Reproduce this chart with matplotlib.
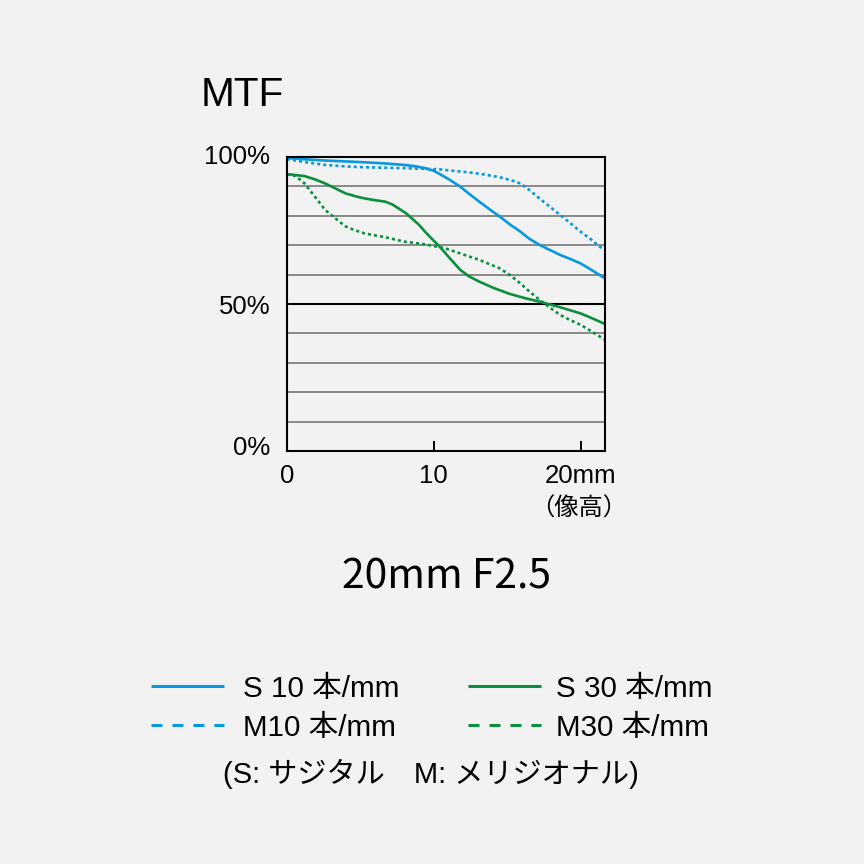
import matplotlib
matplotlib.use("Agg")
import matplotlib.pyplot as plt
from matplotlib.lines import Line2D
from matplotlib.transforms import ScaledTranslation

plt.rcParams['lines.scale_dashes'] = False

# ---- data ----
s10_x = [0, 1.3, 2.6, 4.0, 5.3, 6.7, 8.0, 8.8, 9.4, 10.0, 10.4, 11.1, 11.8, 12.4, 13.1, 13.8, 14.5, 15.2, 15.9, 16.5, 17.2, 17.9, 18.6, 19.3, 20.0, 20.8, 21.66]
s10_y = [99.6, 99.2, 98.8, 98.5, 98.2, 97.8, 97.3, 96.8, 96.2, 95.3, 94.2, 92.2, 89.9, 87.5, 84.8, 82.2, 79.7, 77.0, 74.6, 72.2, 70.1, 68.4, 66.7, 65.3, 63.8, 61.4, 58.7]

m10_x = [0, 1.3, 2.6, 4.0, 5.3, 8.0, 10.4, 12.5, 13.5, 14.5, 15.2, 15.9, 16.5, 17.2, 17.9, 18.6, 19.3, 20.0, 20.7, 21.3, 21.66]
m10_y = [99.3, 98.2, 97.3, 96.8, 96.5, 96.2, 95.8, 94.7, 94.0, 93.1, 92.2, 91.0, 88.8, 85.9, 83.1, 80.3, 77.5, 74.6, 72.0, 69.5, 68.4]

s30_x = [0, 1.2, 1.9, 2.6, 3.3, 4.0, 4.7, 5.3, 6.0, 6.7, 7.2, 7.6, 8.1, 8.5, 9.0, 9.4, 9.9, 10.4, 11.1, 11.8, 12.4, 13.1, 14.1, 15.2, 16.2, 17.2, 18.6, 20.0, 20.8, 21.66]
s30_y = [94.2, 93.5, 92.4, 91.0, 89.3, 87.6, 86.6, 85.9, 85.3, 84.8, 83.8, 82.5, 80.9, 79.1, 76.9, 74.6, 72.0, 69.5, 65.5, 61.6, 59.4, 57.6, 55.4, 53.4, 52.0, 50.8, 48.9, 46.8, 45.1, 43.2]

m30_x = [0, 0.6, 1.2, 1.9, 2.6, 3.3, 3.95, 4.6, 5.3, 6.7, 8.0, 9.4, 10.8, 11.8, 13.1, 14.5, 15.2, 15.9, 16.5, 17.2, 17.9, 18.6, 19.3, 20.0, 20.8, 21.66]
m30_y = [94.1, 93.5, 91.0, 86.5, 82.0, 79.1, 76.5, 75.1, 74.0, 72.7, 71.2, 70.3, 68.9, 67.2, 65.0, 62.1, 59.8, 57.0, 54.3, 51.4, 48.8, 46.3, 44.5, 42.9, 40.5, 37.8]

grid_levels = [10, 20, 30, 40, 60, 70, 80, 90]
mid_level = 50
x_ticks = [0, 10, 20]
x_ticklabels = ['0', '10', '20mm']
y_ticks = [0, 50, 100]
y_ticklabels = ['0%', '50%', '100%']

legend_labels = ['S 10 本/mm', 'M10 本/mm', 'S 30 本/mm', 'M30 本/mm']

BLUE = '#0798e0'
GREEN = '#0a8f3c'
BG = '#f2f2f2'
LATIN = ['Liberation Sans', 'Noto Sans CJK JP']

fig = plt.figure(figsize=(8.64, 8.64), dpi=100, facecolor=BG)
ax = fig.add_axes([287/864, 1-451/864, (605-287)/864, (451-157)/864])
ax.set_facecolor(BG)
ax.set_xlim(0, 21.66)
ax.set_ylim(0, 100)

for g in grid_levels:
    ax.axhline(g, color='#6e6e6e', lw=1.1, zorder=1)
ax.axhline(mid_level, color='black', lw=1.5, zorder=1)

lw = 1.9
dot = (0, (2.2, 2.2))
ax.plot(s10_x, s10_y, color=BLUE, lw=lw, solid_capstyle='butt', solid_joinstyle='round', zorder=3)
ax.plot(m10_x, m10_y, color=BLUE, lw=lw, linestyle=dot, dash_capstyle='butt', zorder=3)
ax.plot(s30_x, s30_y, color=GREEN, lw=lw, solid_capstyle='butt', solid_joinstyle='round', zorder=3)
ax.plot(m30_x, m30_y, color=GREEN, lw=lw, linestyle=dot, dash_capstyle='butt', zorder=3)

for sp in ax.spines.values():
    sp.set_linewidth(1.5)
    sp.set_color('black')
    sp.set_zorder(4)

ax.set_xticks(x_ticks)
ax.set_xticklabels(x_ticklabels, fontfamily=LATIN, fontsize=18.5)
ax.tick_params(axis='x', direction='in', length=7.2, width=1.4, pad=9.5, color='black')
ax.set_yticks(y_ticks)
ax.set_yticklabels(y_ticklabels, fontfamily=LATIN, fontsize=18.5)
ax.tick_params(axis='y', length=0, pad=12)
offsets_px = [5, 0, 2]
for t, off in zip(ax.get_yticklabels(), offsets_px):
    t.set_va('center_baseline')
    t.set_transform(t.get_transform() + ScaledTranslation(0, off/100, fig.dpi_scale_trans))

# texts
fig.text(201/864, 1-95/864, 'MTF', fontfamily=LATIN, fontsize=29.2, ha='left', va='center')
fig.text(627/864, 1-509/864, '（像高）', fontfamily=['Noto Sans CJK JP'], fontsize=17.5, ha='right', va='center')
fig.text(446/864, 1-577/864, '20mm F2.5', fontfamily=['Noto Sans CJK JP'], fontsize=29.4, ha='center', va='center')

# legend (manual layout)
rows_y = [686, 725]
cols = [(151, 224, 243), (468, 541, 556)]
styles = [(BLUE, '-'), (BLUE, '--'), (GREEN, '-'), (GREEN, '--')]
for i, lab in enumerate(legend_labels):
    c = i // 2
    r = i % 2
    x0, x1, xt = cols[c]
    yy = 1 - rows_y[r]/864
    color, ls = styles[i]
    ln = Line2D([x0/864, x1/864], [yy, yy], transform=fig.transFigure, color=color, lw=2.2,
                solid_capstyle='butt', dash_capstyle='butt')
    if ls == '--':
        ln.set_dashes((7.9, 7.2))
    fig.add_artist(ln)
    fig.text(xt/864, 1 - (rows_y[r] + 3)/864, lab, fontfamily=LATIN, fontsize=21.3, ha='left', va='center')

fig.text(431/864, 1-774/864, '(S: サジタル\u3000M: メリジオナル)', fontfamily=LATIN, fontsize=21,
         ha='center', va='center')

fig.savefig('out.png', dpi=100, facecolor=BG)
